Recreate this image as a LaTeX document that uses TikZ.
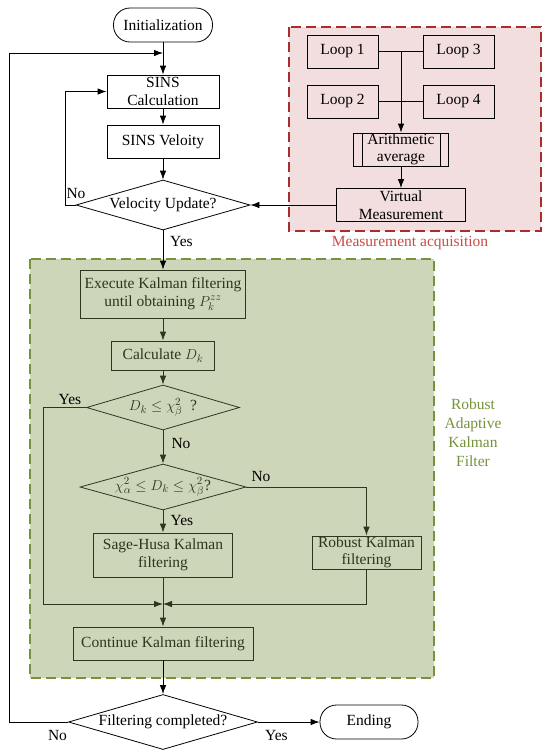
\documentclass[tikz,border=0pt]{standalone}
\usepackage{fontspec}
\setmainfont{Liberation Serif}
\usetikzlibrary{shapes.geometric,arrows.meta}
\definecolor{pinkfill}{RGB}{242,222,222}
\definecolor{redline}{RGB}{170,45,45}
\definecolor{redtext}{RGB}{200,75,70}
\definecolor{greenfill}{RGB}{205,214,184}
\definecolor{greenline}{RGB}{118,146,60}
\definecolor{greentext}{RGB}{118,146,60}
\definecolor{darkg}{RGB}{45,55,32}
\begin{document}
\begin{tikzpicture}[x=1pt,y=-1pt,
  every node/.style={font=\fontsize{15.5}{17.5}\selectfont},
  box/.style={draw, rectangle, align=center, inner sep=0pt, line width=0.8pt},
  term/.style={draw, rectangle, rounded corners=16.5pt, inner sep=0pt, minimum width=99pt, minimum height=34pt, line width=0.8pt},
  dec/.style={draw, diamond, aspect=3.5, inner sep=0pt, line width=0.8pt},
  arr/.style={-{Latex[length=9pt,width=6.5pt]}, line width=0.8pt},
  gbox/.style={box, draw=darkg, text=darkg},
  gdec/.style={dec, draw=darkg, text=darkg},
  lbl/.style={inner sep=0pt},
  ]
\useasboundingbox (0,0) rectangle (550,756);

% backgrounds
\fill[pinkfill] (289,27) rectangle (541,231);
\draw[redline, line width=1.3pt, dash pattern=on 10pt off 5pt] (289,27) rectangle (541,231);
\fill[greenfill] (30,259) rectangle (434,678);
\draw[greenline, line width=1.3pt, dash pattern=on 10pt off 5pt] (30,259) rectangle (434,678);

\node[text=redtext] (mlab) at (410,243) {Measurement acquisition};
\node[text=greentext, align=center, font=\fontsize{15.5}{19}\selectfont] (glab) at (473,432.5) {Robust\\Adaptive\\Kalman\\Filter};

% main column
\node[term] (init) at (163,25) {Initialization};
\node[box, minimum width=112pt, minimum height=33pt] (calc) at (163,91.5) {SINS\\Calculation};
\node[box, minimum width=112pt, minimum height=33pt] (vel) at (163,141.5) {SINS Veloity};
\node[dec, minimum width=174pt, minimum height=50pt] (vu) at (163,205) {Velocity Update?};

% measurement acquisition
\node[box, minimum width=71pt, minimum height=33pt] (l1) at (342.5,51.5) {Loop 1};
\node[box, minimum width=71pt, minimum height=33pt] (l3) at (458.5,51.5) {Loop 3};
\node[box, minimum width=71pt, minimum height=33pt] (l2) at (342.5,101.5) {Loop 2};
\node[box, minimum width=71pt, minimum height=33pt] (l4) at (458.5,101.5) {Loop 4};
\coordinate (j1) at (401,51.5);
\node[box, minimum width=95pt, minimum height=33pt] (avg) at (401,149.5) {Arithmetic\\average};
\draw[line width=0.8pt] ([xshift=9pt]avg.north west) -- ([xshift=9pt]avg.south west);
\draw[line width=0.8pt] ([xshift=-9pt]avg.north east) -- ([xshift=-9pt]avg.south east);
\node[box, minimum width=129pt, minimum height=33pt] (vm) at (401,205) {Virtual\\Measurement};

\draw[line width=0.8pt] (l1.east) -- (l3.west);
\draw[line width=0.8pt] (l2.east) -- (l4.west);
\draw[arr] (j1) -- (avg.north);
\draw[arr] (avg) -- (vm);
\draw[arr] (vm.west) -- (vu.east);

% robust adaptive KF
\node[gbox, minimum width=165pt, minimum height=48pt] (exec) at (163,294) {Execute Kalman filtering\\until obtaining $P_k^{zz}$};
\node[gbox, minimum width=103pt, minimum height=29pt] (dk) at (163,355.5) {Calculate $D_k$};
\node[gdec, minimum width=153pt, minimum height=45pt] (d1) at (163,407.5) {$D_k \le \chi^2_\beta$\ \ ?};
\node[gdec, minimum width=166pt, minimum height=46pt] (d2) at (163,487) {$\chi^2_\alpha \le D_k \le \chi^2_\beta$?};
\node[gbox, minimum width=139pt, minimum height=44pt] (sage) at (163,555) {Sage-Husa Kalman\\filtering};
\node[gbox, minimum width=109pt, minimum height=33pt] (rob) at (366.5,552.5) {Robust Kalman\\filtering};
\node[gbox, minimum width=180pt, minimum height=33pt] (cont) at (163,643.5) {Continue Kalman filtering};

% final
\node[dec, minimum width=189pt, minimum height=55pt] (fc) at (163,722) {Filtering completed?};
\node[term, minimum width=98pt] (end) at (369,722) {Ending};

% coordinates
\coordinate (top) at (163,53);
\coordinate (cornerTL) at (9,53);
\coordinate (noL) at (65,91.5);
\coordinate (join) at (163,604);
\coordinate (yesL) at (43,604);

% connectors
\draw[arr] (init) -- (calc);
\draw[arr] (fc.west) -| (cornerTL) -- (top);
\draw[arr] (calc) -- (vel);
\draw[arr] (vel) -- (vu);
\draw[arr] (vu.west) -| (noL) -- (calc.west);
\draw[arr] (vu.south) -- (exec.north);
\draw[arr, darkg] (exec) -- (dk);
\draw[arr, darkg] (dk) -- (d1);
\draw[arr, darkg] (d1) -- (d2);
\draw[arr, darkg] (d2.east) -| (rob.north);
\draw[arr, darkg] (d2) -- (sage);
\draw[arr, darkg] (sage) -- (cont);
\draw[arr, darkg] (d1.west) -| (yesL) -- (join);
\draw[arr, darkg] (rob.south) |- (join);
\draw[arr] (cont) -- (fc);
\draw[arr] (fc.east) -- (end.west);

% labels
\node[lbl] (lno1) at (76,193) {No};
\node[lbl] (lyes1) at (181.5,241) {Yes};
\node[lbl] (lyes2) at (70,399) {Yes};
\node[lbl] (lno2) at (181,443) {No};
\node[lbl] (lno3) at (261,476) {No};
\node[lbl] (lyes3) at (182,520) {Yes};
\node[lbl] (lno4) at (57.5,735) {No};
\node[lbl] (lyes4) at (276.5,735) {Yes};
\end{tikzpicture}
\end{document}
